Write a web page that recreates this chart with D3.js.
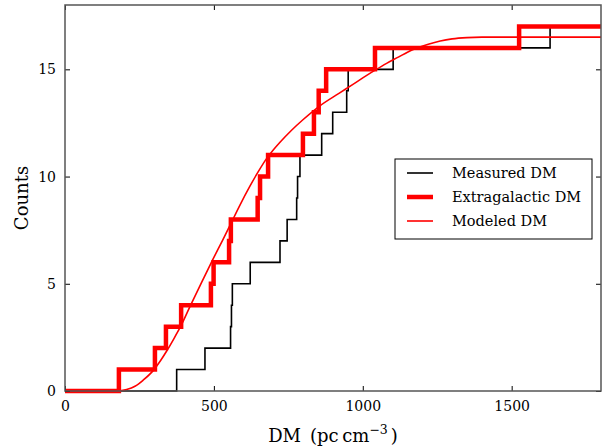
<!DOCTYPE html>
<html>
<head>
<meta charset="utf-8">
<script src="https://cdn.jsdelivr.net/npm/d3@7"></script>
<style>
  html, body { margin: 0; padding: 0; background: #fff; }
  svg { display: block; }
  svg text { font-family: "DejaVu Serif", "Liberation Serif", serif; fill: #000; }
</style>
</head>
<body>
<svg id="chart" width="613" height="448"></svg>
<script>
// Cumulative DM counts: each value is the DM (pc cm^-3) at which the count rises by one.
const measuredDM = [375, 470, 556, 559, 562, 622, 722, 746, 778, 781, 789, 862, 899, 946, 951, 1102, 1629];
const extragalacticDM = [181, 302, 339, 390, 490, 499, 551, 557, 647, 655, 682, 799, 836, 852, 877, 1041, 1525];

// Modeled cumulative distribution, sampled along DM.
const modelDM =     [0, 175, 207, 235, 262, 296, 320, 343, 364, 386, 420, 460, 497, 530, 554, 585, 621, 650, 675, 700, 722, 760, 799, 856, 920, 967, 1000, 1040, 1080, 1121, 1150, 1180, 1220, 1260, 1300, 1350, 1400, 1500, 1800];
const modelCounts = [0, 0, 0.07, 0.22, 0.5, 0.95, 1.4, 1.9, 2.4, 2.95, 3.95, 5.1, 6.15, 7.05, 7.72, 8.6, 9.55, 10.25, 10.8, 11.25, 11.6, 12.15, 12.65, 13.3, 13.88, 14.3, 14.6, 14.95, 15.28, 15.58, 15.8, 15.98, 16.17, 16.32, 16.42, 16.48, 16.5, 16.5, 16.5];

const xTicks = [0, 500, 1000, 1500];
const yTicks = [0, 5, 10, 15];
const xDomain = [0, 1800];
const yDomain = [0, 18];

const legendItems = [
  { label: "Measured DM", color: "#000", width: 1.6 },
  { label: "Extragalactic DM", color: "#ff0000", width: 4.5 },
  { label: "Modeled DM", color: "#ff0000", width: 1.6 }
];

const svg = d3.select("#chart");
const plot = { left: 65, right: 601, top: 5, bottom: 391 };

const x = d3.scaleLinear().domain(xDomain).range([plot.left, plot.right]);
const y = d3.scaleLinear().domain(yDomain).range([plot.bottom, plot.top]);

// Step sequences built from the DM lists
function steps(dms) {
  const pts = [[xDomain[0], 0]];
  dms.forEach((d, i) => pts.push([d, i + 1]));
  pts.push([xDomain[1], dms.length]);
  return pts;
}

const stepLine = d3.line()
  .x(d => x(d[0])).y(d => y(d[1]))
  .curve(d3.curveStepAfter);

const smoothLine = d3.line()
  .x(d => x(d[0])).y(d => y(d[1]))
  .curve(d3.curveMonotoneX);

svg.append("defs").append("clipPath").attr("id", "clip")
  .append("rect")
  .attr("x", plot.left).attr("y", plot.top - 4)
  .attr("width", plot.right - plot.left).attr("height", plot.bottom - plot.top + 8);

const g = svg.append("g").attr("clip-path", "url(#clip)");

g.append("path")
  .attr("d", stepLine(steps(measuredDM)))
  .attr("fill", "none").attr("stroke", "#000").attr("stroke-width", 1.6);

g.append("path")
  .attr("d", stepLine(steps(extragalacticDM)))
  .attr("fill", "none").attr("stroke", "#ff0000").attr("stroke-width", 4.5)
  .attr("stroke-linejoin", "miter");

g.append("path")
  .attr("d", smoothLine(modelDM.map((d, i) => [d, modelCounts[i]])))
  .attr("fill", "none").attr("stroke", "#ff0000").attr("stroke-width", 1.6);

// Axes with inward ticks on all four sides
const tickLen = 5;
const axisBottom = d3.axisBottom(x).tickValues(xTicks).tickSize(-tickLen).tickPadding(10).tickFormat(d3.format("d"));
const axisTop = d3.axisTop(x).tickValues(xTicks).tickSize(-tickLen).tickFormat("");
const axisLeft = d3.axisLeft(y).tickValues(yTicks).tickSize(-tickLen).tickPadding(9).tickFormat(d3.format("d"));
const axisRight = d3.axisRight(y).tickValues(yTicks).tickSize(-tickLen).tickFormat("");

function styleAxis(sel) {
  sel.select(".domain").remove();
  sel.selectAll(".tick line").attr("stroke", "#000").attr("stroke-width", 1);
  sel.selectAll(".tick text").attr("font-size", 14).attr("fill", "#000");
}

svg.append("g").attr("transform", `translate(0,${plot.bottom})`).call(axisBottom).call(styleAxis);
svg.append("g").attr("transform", `translate(0,${plot.top})`).call(axisTop).call(styleAxis);
svg.append("g").attr("transform", `translate(${plot.left},0)`).call(axisLeft).call(styleAxis);
svg.append("g").attr("transform", `translate(${plot.right},0)`).call(axisRight).call(styleAxis);

// Frame
svg.append("rect")
  .attr("x", plot.left).attr("y", plot.top)
  .attr("width", plot.right - plot.left).attr("height", plot.bottom - plot.top)
  .attr("fill", "none").attr("stroke", "#555").attr("stroke-width", 1.5);

// Axis titles
const xTitle = svg.append("text")
  .attr("x", 333).attr("y", 442)
  .attr("text-anchor", "middle").attr("font-size", 18);
xTitle.append("tspan").text("DM\u2002(pc\u2009cm");
xTitle.append("tspan").attr("dy", -8).attr("font-size", 12.5).text("\u22123");
xTitle.append("tspan").attr("dy", 8).attr("dx", 3).text(")");

svg.append("text")
  .attr("transform", `translate(28,${(plot.top + plot.bottom) / 2}) rotate(-90)`)
  .attr("text-anchor", "middle").attr("font-size", 18)
  .text("Counts");

// Legend
const lg = svg.append("g").attr("transform", "translate(395,159)");
lg.append("rect").attr("x", 0).attr("y", 0).attr("width", 197).attr("height", 80)
  .attr("fill", "#fff").attr("stroke", "#000").attr("stroke-width", 1);
legendItems.forEach((item, i) => {
  const cy = 14 + i * 24;
  lg.append("line")
    .attr("x1", 12).attr("x2", 38).attr("y1", cy).attr("y2", cy)
    .attr("stroke", item.color).attr("stroke-width", item.width);
  lg.append("text")
    .attr("x", 57).attr("y", cy + 5)
    .attr("font-size", 14.5)
    .text(item.label);
});
</script>
</body>
</html>
